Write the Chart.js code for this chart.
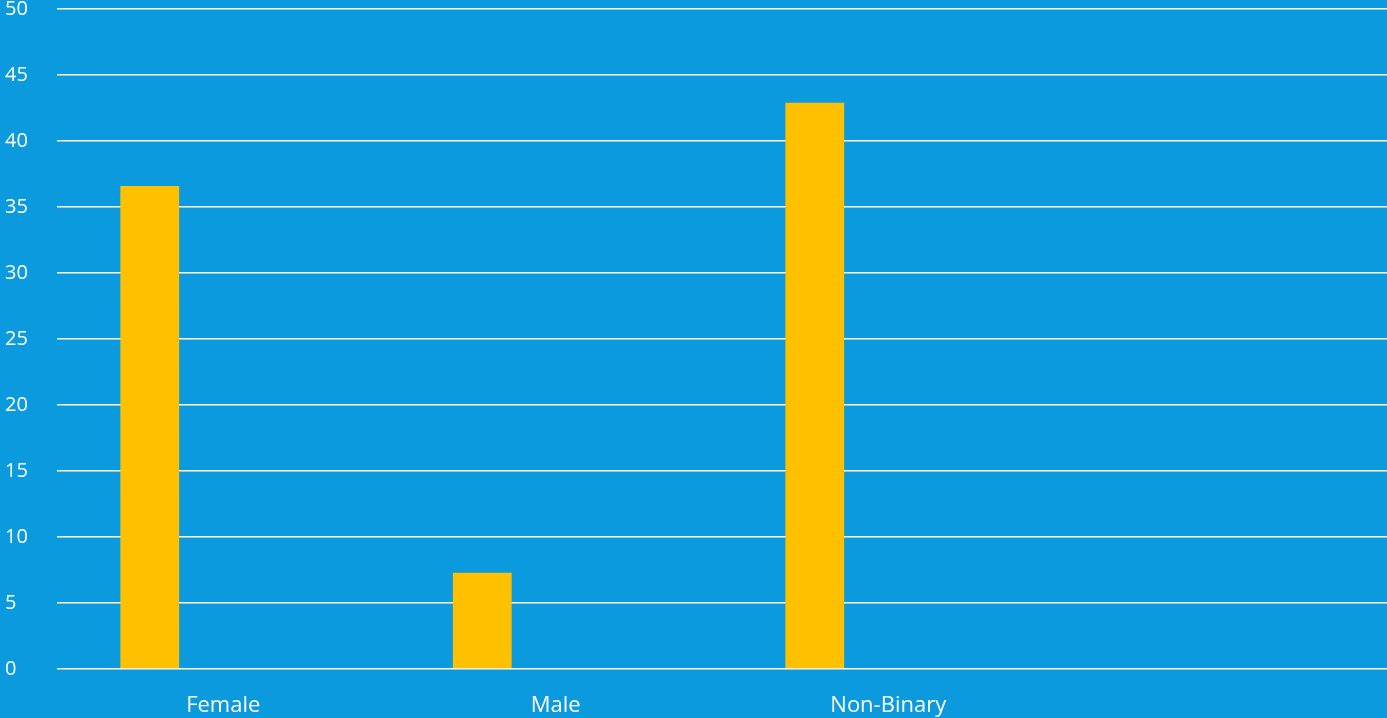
<!DOCTYPE html>
<html>
<head>
<meta charset="utf-8">
<script src="https://cdn.jsdelivr.net/npm/chart.js@4/dist/chart.umd.min.js"></script>
<style>
  html, body { margin: 0; padding: 0; background: #0b9ade; }
  #wrap { width: 1387px; height: 718px; position: relative; }
</style>
</head>
<body>
<div id="wrap"><canvas id="myChart"></canvas></div>
<script>
const categories = ['Female', 'Male', 'Non-Binary', ''];
const seriesValues = [36.6, 7.3, 42.9, null];
const emptySeries = [null, null, null, null];
const yTicks = [0, 5, 10, 15, 20, 25, 30, 35, 40, 45, 50];

const $chart = document.querySelector('#myChart');

const data = {
  labels: categories,
  datasets: [{
    label: 'Series 1',
    data: seriesValues,
    backgroundColor: '#ffc000',
    borderWidth: 0,
  }, {
    label: 'Series 2',
    data: emptySeries,
    backgroundColor: 'rgba(0,0,0,0)',
    borderWidth: 0,
  }],
};

const config = {
  type: 'bar',
  data,
  options: {
    responsive: true,
    maintainAspectRatio: false,
    animation: false,
    categoryPercentage: 0.884,
    barPercentage: 0.4,
    layout: { padding: { left: 5 } },
    plugins: {
      legend: { display: false },
      tooltip: { enabled: false },
    },
    scales: {
      x: {
        grid: { display: false, drawTicks: false },
        border: { display: false },
        ticks: {
          color: '#ffffff',
          font: { family: 'Open Sans', size: 22 },
          padding: 24,
          maxRotation: 0,
        },
        afterFit: (scale) => { scale.height = 49; },
      },
      y: {
        min: 0,
        max: 50,
        afterBuildTicks: (scale) => { scale.ticks = yTicks.map((v) => ({ value: v })); },
        grid: { color: '#ffffff', lineWidth: 1.5, drawTicks: false },
        border: { display: false },
        ticks: {
          color: '#ffffff',
          font: { family: 'Open Sans', size: 20, lineHeight: 0.5 },
          crossAlign: 'far',
          padding: 4,
        },
        afterFit: (scale) => { scale.width = 52; },
      },
    },
  },
};

const myChart = new Chart($chart, config);
</script>
</body>
</html>
